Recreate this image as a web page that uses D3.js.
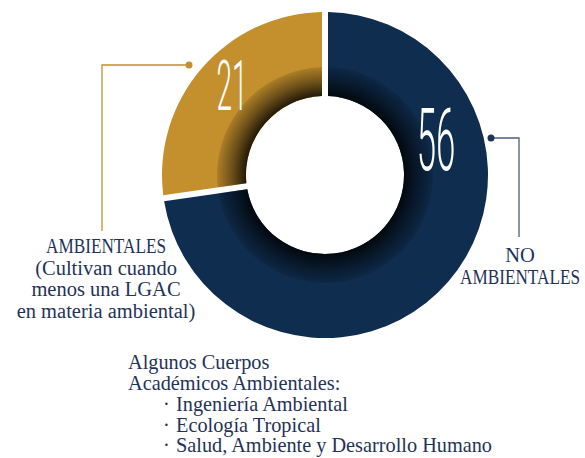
<!DOCTYPE html>
<html lang="es">
<head>
<meta charset="utf-8"/>
<title>Cuerpos Académicos</title>
<script src="https://d3js.org/d3.v7.min.js"></script>
<style>
  body { margin: 0; background: #fff; }
  text { font-family: "Liberation Serif", serif; fill: #1f3358; }
  .num { font-family: Roboto, sans-serif; font-weight: 300; fill: #fff; }
</style>
</head>
<body>
<div id="chart"></div>
<script>
// data
var categories = ["AMBIENTALES", "NO AMBIENTALES"];
var values = [21, 56];
var colors = ["#c4902d", "#0f2d4f"];
var leftLabel = ["AMBIENTALES", "(Cultivan cuando", "menos una LGAC", "en materia ambiental)"];
var rightLabel = ["NO", "AMBIENTALES"];
var noteTitle = ["Algunos Cuerpos", "Académicos Ambientales:"];
var noteItems = ["Ingeniería Ambiental", "Ecología Tropical", "Salud, Ambiente y Desarrollo Humano"];

var width = 585, height = 458;
var cx = 325, cy = 175, rOuter = 163, rInner = 79, rShade = 108;

var svg = d3.select("#chart").append("svg")
  .attr("width", width)
  .attr("height", height);

// inner shadow (radial gradient in the donut's own coords)
var grad = svg.append("defs").append("radialGradient")
  .attr("id", "shade")
  .attr("gradientUnits", "userSpaceOnUse")
  .attr("cx", 0).attr("cy", 0).attr("r", rShade);
grad.append("stop").attr("offset", rInner / rShade).attr("stop-color", "#000").attr("stop-opacity", 0.82);
grad.append("stop").attr("offset", 0.86).attr("stop-color", "#000").attr("stop-opacity", 0.45);
grad.append("stop").attr("offset", 1).attr("stop-color", "#000").attr("stop-opacity", 0.12);

var total = d3.sum(values);
var start = -values[0] / total * 2 * Math.PI;
var pie = d3.pie().sort(null).startAngle(start).endAngle(start + 2 * Math.PI);
var arcs = pie(values);

var arc = d3.arc().innerRadius(rInner).outerRadius(rOuter)
  .padAngle(6 / rOuter).padRadius(rOuter);
var shadeArc = d3.arc().innerRadius(rInner).outerRadius(rShade)
  .padAngle(6 / rOuter).padRadius(rOuter);

var g = svg.append("g").attr("transform", "translate(" + cx + "," + cy + ")");

g.selectAll(".slice")
    .data(arcs)
  .enter().append("path")
    .attr("class", "slice")
    .attr("fill", function(d, i) { return colors[i]; })
    .attr("d", arc);

g.selectAll(".shade")
    .data(arcs)
  .enter().append("path")
    .attr("class", "shade")
    .attr("fill", "url(#shade)")
    .attr("d", shadeArc);

// value labels
var numPos = [[232, 110, 70], [436, 170, 87]];
svg.selectAll(".num")
    .data(values)
  .enter().append("text")
    .attr("class", "num")
    .attr("text-anchor", "middle")
    .attr("font-size", function(d, i) { return numPos[i][2]; })
    .attr("transform", function(d, i) {
      return "translate(" + numPos[i][0] + "," + numPos[i][1] + ") scale(0.4,1)";
    })
    .text(function(d) { return d; });

// callout lines
svg.append("polyline")
  .attr("points", "189,65 102,65 102,231")
  .attr("fill", "none").attr("stroke", colors[0]).attr("stroke-width", 1.3);
svg.append("circle").attr("cx", 189).attr("cy", 65).attr("r", 3.5).attr("fill", colors[0]);

svg.append("polyline")
  .attr("points", "491,138 519,138 519,237")
  .attr("fill", "none").attr("stroke", "#4d5f7a").attr("stroke-width", 1.3);
svg.append("circle").attr("cx", 491).attr("cy", 138).attr("r", 3.5).attr("fill", "#1f3358");

// category labels (upper-case lines are narrower in the reference)
function label(lines, x, y0, step) {
  svg.append("g").selectAll("text")
      .data(lines)
    .enter().append("text")
      .attr("text-anchor", "middle")
      .attr("font-size", 20.5)
      .attr("transform", function(d) {
        var sx = d === d.toUpperCase() && d.length > 3 ? 0.84 : 1;
        return "translate(" + x + "," + (y0 + lines.indexOf(d) * step) + ") scale(" + sx + ",1)";
      })
      .text(function(d) { return d; });
}
label(leftLabel, 106, 253, 21.6);
label(rightLabel, 520, 262, 22);

// note
svg.append("g").selectAll("text")
    .data(noteTitle)
  .enter().append("text")
    .attr("x", 128)
    .attr("y", function(d, i) { return 369 + i * 21; })
    .attr("font-size", 20.3)
    .text(function(d) { return d; });

var items = svg.append("g").selectAll("g")
    .data(noteItems)
  .enter().append("g")
    .attr("transform", function(d, i) { return "translate(0," + (411 + i * 20.7) + ")"; });
items.append("text").attr("x", 163).attr("font-size", 20.3).text("·");
items.append("text").attr("x", 176).attr("font-size", 20.3).text(function(d) { return d; });
</script>
</body>
</html>
